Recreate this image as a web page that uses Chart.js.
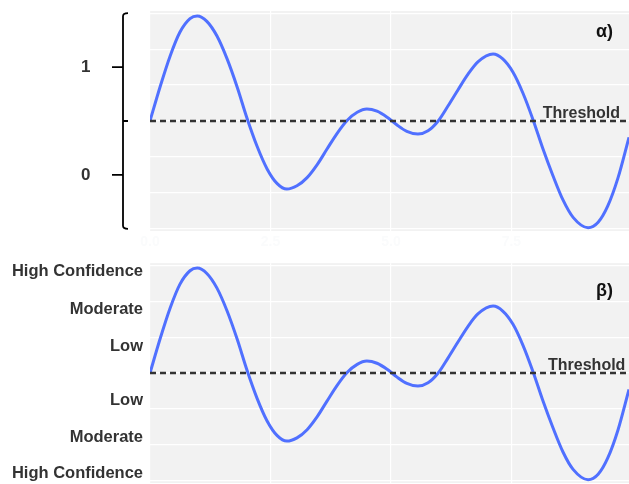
<!DOCTYPE html>
<html>
<head>
<meta charset="utf-8">
<script src="https://cdn.jsdelivr.net/npm/chart.js@4/dist/chart.umd.min.js"></script>
<style>
  html, body { margin: 0; padding: 0; background: #ffffff; overflow: hidden; width: 629px; height: 484px; }
  canvas { display: block; }
  #wrap1 { position: absolute; left: 0; top: 0; }
  #wrap2 { position: absolute; left: 0; top: 252px; }
</style>
</head>
<body>
<div id="wrap1"><canvas id="c1" width="629" height="252"></canvas></div>
<div id="wrap2"><canvas id="c2" width="629" height="252"></canvas></div>
<script>
// ---- data ----
const X_VALUES = [0,0.21,0.42,0.62,0.83,0.98,1.18,1.39,1.60,1.81,2.01,2.22,2.43,2.64,2.84,3.05,3.26,3.47,3.67,3.88,4.09,4.30,4.50,4.71,4.92,5.12,5.33,5.56,5.77,5.98,6.18,6.39,6.60,6.81,7.12,7.32,7.53,7.74,7.95,8.15,8.36,8.57,8.78,9.09,9.30,9.50,9.71,9.94];
const SIGNAL   = [0,0.63,1.20,1.63,1.88,1.93,1.83,1.56,1.14,0.62,0.06,-0.46,-0.88,-1.15,-1.25,-1.19,-1.04,-0.80,-0.52,-0.23,0.01,0.16,0.22,0.18,0.07,-0.07,-0.19,-0.24,-0.18,0.00,0.27,0.57,0.86,1.09,1.23,1.14,0.90,0.51,0.02,-0.50,-1.00,-1.45,-1.77,-1.96,-1.86,-1.56,-1.05,-0.30];
const THRESHOLD = 0;
const X_RANGE = [0, 9.94];
const Y_RANGE = [-2.02, 2.02];
const X_TICKS = [0, 2.5, 5, 7.5];
const Y_TICKS = [-1.98, -1.32, -0.66, 0, 0.66, 1.32, 1.98];
// top panel bracket axis
const BRACKET_RANGE = [-0.52, 1.52];
const BRACKET_TICKS = [0, 1];
const BRACKET_LABELS = ['0', '1'];
const BRACKET_MARKS = [-0.5, 0.5, 1.5];
// bottom panel confidence axis
const CONF_TICKS = [-1.84, -1.175, -0.51, 0.48, 1.175, 1.87];
const CONF_LABELS = ['High Confidence', 'Moderate', 'Low', 'Low', 'Moderate', 'High Confidence'];
const PANEL_TAGS = ['α)', 'β)'];
const THRESHOLD_TEXT = 'Threshold';
const THRESHOLD_LABEL_X = [8.15, 8.26];

const FONT = '"Liberation Sans", Arial, Helvetica, sans-serif';
const FAINT = ['#f8f0f2', '#f0f4fa', '#f8f6ec', '#f0f2f8', '#f6f0f4', '#f0f4f8', '#f8f0f2'];

function makePanel(canvasId, idx) {
  const isTop = idx === 0;
  const points = X_VALUES.map((x, i) => ({ x: x, y: SIGNAL[i] }));
  const thr = [{ x: X_RANGE[0], y: THRESHOLD }, { x: X_RANGE[1], y: THRESHOLD }];

  const y2 = isTop ? {
    type: 'linear', position: 'left', weight: 1,
    min: BRACKET_RANGE[0], max: BRACKET_RANGE[1],
    grid: { display: false, drawTicks: false }, border: { display: false },
    afterBuildTicks: s => { s.ticks = BRACKET_TICKS.map(v => ({ value: v })); },
    afterFit: s => { s.width = 69; },
    ticks: {
      padding: 0, color: '#333333', crossAlign: 'far',
      font: { family: FONT, size: 17, weight: 'bold', lineHeight: 0.6 },
      callback: v => BRACKET_LABELS[BRACKET_TICKS.indexOf(v)]
    }
  } : {
    type: 'linear', position: 'left', weight: 1,
    min: Y_RANGE[0], max: Y_RANGE[1],
    grid: { display: false, drawTicks: false }, border: { display: false },
    afterBuildTicks: s => { s.ticks = CONF_TICKS.map(v => ({ value: v })); },
    afterFit: s => { s.width = 150; },
    ticks: {
      padding: 7, color: '#333333',
      font: { family: FONT, size: 16.5, weight: 'bold', lineHeight: 0.5 },
      callback: v => CONF_LABELS[CONF_TICKS.indexOf(v)]
    }
  };

  const decor = {
    id: 'decor' + idx,
    beforeDraw(chart) {
      const a = chart.chartArea, ctx = chart.ctx;
      ctx.save();
      ctx.fillStyle = '#F2F2F2';
      ctx.fillRect(a.left, a.top, a.right - a.left, a.bottom - a.top);
      ctx.restore();
    },
    afterDraw(chart) {
      const ctx = chart.ctx, a = chart.chartArea;
      const xs = chart.scales.x, ys = chart.scales.y;
      ctx.save();
      // threshold label
      ctx.fillStyle = '#333333';
      ctx.font = 'bold 16px ' + FONT;
      ctx.textAlign = 'left';
      ctx.textBaseline = 'alphabetic';
      ctx.fillText(THRESHOLD_TEXT, xs.getPixelForValue(THRESHOLD_LABEL_X[idx]), ys.getPixelForValue(THRESHOLD) - 3);
      // panel tag
      ctx.fillStyle = '#111111';
      ctx.font = 'bold 18px ' + FONT;
      ctx.textAlign = 'right';
      ctx.textBaseline = 'middle';
      ctx.fillText(PANEL_TAGS[idx], a.right - 16, a.top + (isTop ? 21 : 28));
      // bracket axis
      if (isTop) {
        const s = chart.scales.y2;
        const x0 = a.left - 27;
        const yTop = s.getPixelForValue(BRACKET_MARKS[2]);
        const yBot = s.getPixelForValue(BRACKET_MARKS[0]);
        const yMid = s.getPixelForValue(BRACKET_MARKS[1]);
        ctx.strokeStyle = '#000000';
        ctx.lineWidth = 1.8;
        ctx.beginPath();
        ctx.moveTo(x0 + 5, yTop);
        ctx.quadraticCurveTo(x0, yTop, x0, yTop + 3);
        ctx.lineTo(x0, yBot - 3);
        ctx.quadraticCurveTo(x0, yBot, x0 + 5, yBot);
        ctx.moveTo(x0, yMid);
        ctx.lineTo(x0 + 5, yMid);
        BRACKET_TICKS.forEach(v => {
          const py = s.getPixelForValue(v);
          ctx.moveTo(x0, py);
          ctx.lineTo(x0 - 11, py);
        });
        ctx.stroke();
      }
      ctx.restore();
    }
  };

  return new Chart(document.getElementById(canvasId), {
    type: 'line',
    data: {
      datasets: [
        {
          data: points, borderColor: '#5070FF', borderWidth: 3,
          pointRadius: 0, cubicInterpolationMode: 'monotone', fill: false, order: 2
        },
        {
          data: thr, borderColor: '#333333', borderWidth: 2.5, borderDash: [6, 4],
          pointRadius: 0, fill: false, order: 1
        }
      ]
    },
    options: {
      responsive: false, animation: false,
      layout: { padding: { top: 11, right: 0, bottom: 0, left: isTop ? 81 : 0 } },
      plugins: { legend: { display: false }, tooltip: { enabled: false } },
      scales: {
        x: {
          type: 'linear', min: X_RANGE[0], max: X_RANGE[1],
          afterBuildTicks: s => { s.ticks = X_TICKS.map(v => ({ value: v })); },
          afterFit: s => { s.height = 21; },
          grid: { color: '#ffffff', lineWidth: 1.2, drawTicks: false },
          border: { display: false },
          ticks: {
            padding: 3, color: '#fafbfc', maxRotation: 0,
            font: { family: FONT, size: 14, weight: 'bold' },
            callback: v => v.toFixed(1)
          }
        },
        y: {
          type: 'linear', position: 'left', weight: 0,
          min: Y_RANGE[0], max: Y_RANGE[1],
          afterBuildTicks: s => { s.ticks = Y_TICKS.map(v => ({ value: v })); },
          afterFit: s => { s.width = 0; },
          grid: { color: '#ffffff', lineWidth: 1.2, drawTicks: false },
          border: { display: false },
          ticks: {
            padding: 7,
            color: c => FAINT[c.index % FAINT.length],
            font: { family: FONT, size: 15, weight: 'bold', lineHeight: 0.5 },
            callback: v => v.toFixed(2)
          }
        },
        y2: y2
      }
    },
    plugins: [decor]
  });
}

makePanel('c1', 0);
makePanel('c2', 1);
</script>
</body>
</html>
